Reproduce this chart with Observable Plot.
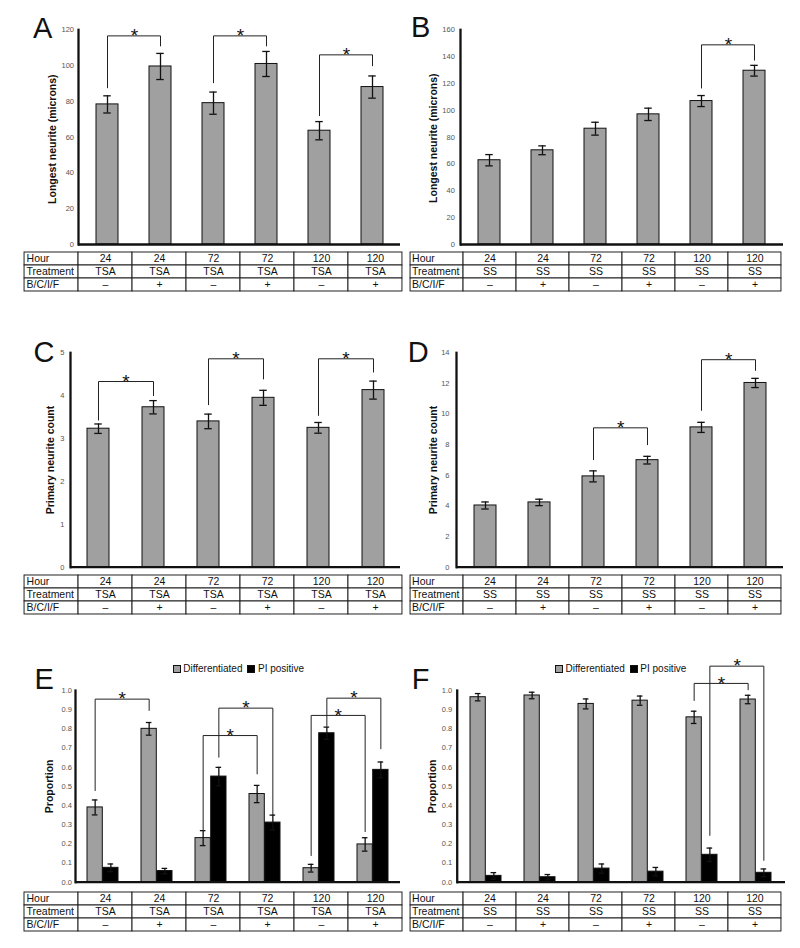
<!DOCTYPE html>
<html>
<head>
<meta charset="utf-8">
<script src="https://cdn.jsdelivr.net/npm/d3@7"></script>
<script src="https://cdn.jsdelivr.net/npm/@observablehq/plot@0.6"></script>
<style>
  html, body { margin: 0; padding: 0; background: #fff; }
  #fig { position: relative; width: 800px; height: 948px; overflow: hidden; font-family: Arial, "Liberation Sans", sans-serif; color: #111; }
  #fig > div { position: absolute; }
  .letter { font-size: 29px; line-height: 29px; }
  .legend { display: flex; align-items: center; font-size: 10px; line-height: 12px; white-space: nowrap; }
  .sw { width: 6px; height: 6px; border: 0.8px solid #111; display: inline-block; }
</style>
</head>
<body>
<div id="fig"></div>
<script>
// ---------- data ----------
const groups = [0, 1, 2, 3, 4, 5];
const hours = ["24", "24", "72", "72", "120", "120"];
const treatmentTSA = ["TSA", "TSA", "TSA", "TSA", "TSA", "TSA"];
const treatmentSS = ["SS", "SS", "SS", "SS", "SS", "SS"];
const bcif = ["–", "+", "–", "+", "–", "+"];
const tableRows = ["Hour", "Treatment", "B/C/I/F"];
const panelLetters = ["A", "B", "C", "D", "E", "F"];
const legendLabels = ["Differentiated", "PI positive"];

const ticksLongestTSA = [0, 20, 40, 60, 80, 100, 120];
const ticksLongestSS = [0, 20, 40, 60, 80, 100, 120, 140, 160];
const ticksCountTSA = [0, 1, 2, 3, 4, 5];
const ticksCountSS = [0, 2, 4, 6, 8, 10, 12, 14];
const ticksProportion = [0, 0.1, 0.2, 0.3, 0.4, 0.5, 0.6, 0.7, 0.8, 0.9, 1.0];

// A: longest neurite, TSA
const longestTSA = [78.3, 99.5, 79.0, 100.9, 63.6, 88.0];
const longestTSAErr = [4.8, 7.3, 6.2, 7.0, 5.1, 6.2];
// B: longest neurite, SS
const longestSS = [62.8, 70.2, 86.3, 97.0, 106.9, 129.5];
const longestSSErr = [4.2, 3.3, 4.8, 4.6, 4.1, 4.0];
// C: primary neurite count, TSA
const countTSA = [3.23, 3.73, 3.40, 3.95, 3.25, 4.13];
const countTSAErr = [0.11, 0.155, 0.17, 0.175, 0.125, 0.21];
// D: primary neurite count, SS
const countSS = [4.03, 4.23, 5.93, 6.99, 9.13, 12.03];
const countSSErr = [0.23, 0.21, 0.36, 0.25, 0.33, 0.30];
// E: proportions, TSA
const diffTSA = [0.39, 0.80, 0.23, 0.46, 0.073, 0.197];
const diffTSAErr = [0.039, 0.033, 0.039, 0.045, 0.02, 0.035];
const piTSA = [0.075, 0.058, 0.551, 0.311, 0.777, 0.586];
const piTSAErr = [0.02, 0.014, 0.048, 0.039, 0.032, 0.041];
// F: proportions, SS
const diffSS = [0.965, 0.974, 0.93, 0.947, 0.86, 0.953];
const diffSSErr = [0.019, 0.017, 0.026, 0.024, 0.032, 0.022];
const piSS = [0.033, 0.026, 0.071, 0.055, 0.143, 0.049];
const piSSErr = [0.017, 0.014, 0.024, 0.022, 0.035, 0.02];

// significance brackets: [series, from, to, top, left end, right end]
const bracketsA = [[0, 0, 1, 116.6, 87.6, 111], [0, 2, 3, 116.6, 90.4, 111], [0, 4, 5, 106, 72, 99.9]];
const bracketsB = [[0, 4, 5, 148.8, 116.6, 137.4]];
const bracketsC = [[0, 0, 1, 4.33, 3.43, 4.0], [0, 2, 3, 4.86, 3.79, 4.39], [0, 4, 5, 4.86, 3.54, 4.55]];
const bracketsD = [[0, 2, 3, 9.1, 7.02, 8.0], [0, 4, 5, 13.55, 10.24, 12.85]];
const bracketsE = [[0, 0, 1, 0.955, 0.478, 0.896], [0, 2, 3, 0.765, 0.27, 0.565], [1, 2, 3, 0.908, 0.652, 0.353],
                   [0, 4, 5, 0.87, 0.139, 0.264], [1, 4, 5, 0.96, 0.817, 0.696]];
const bracketsF = [[0, 4, 5, 1.037, 0.948, 1.004], [1, 4, 5, 1.127, 0.244, 0.114]];

const GRAY = "#a0a0a0", BLACK = "#000";
const fig = document.getElementById("fig");
const FONT = "Arial, 'Liberation Sans', sans-serif";

function place(el, left, top) {
  const d = document.createElement("div");
  d.style.left = left + "px";
  d.style.top = top + "px";
  d.append(el);
  fig.append(d);
  return d;
}

function panel(c) {
  const mL = c.fx0 - c.left, mR = c.left + c.width - c.fx1;
  const mT = c.fy0 - c.top, mB = c.top + c.height - c.fy1;
  const n = c.series.length;
  const barW = n === 2 ? 15.7 : 22;
  const capW = n === 2 ? 6 : 7.5;
  const groupW = barW * n;
  const step = (c.fx1 - c.fx0) / groups.length;
  const pInner = 1 - groupW / step;
  const marks = [Plot.frame({anchor: "left", stroke: "#111", strokeWidth: 2.3})];
  const offs = c.series.map((s, k) => n === 2 ? (k === 0 ? -barW / 2 : barW / 2) : 0);
  const rowsOf = s => groups.map(i => ({i, v: s.values[i], e: s.errors[i]}));
  c.series.forEach((s, k) => {
    marks.push(Plot.barY(rowsOf(s), {
      x: "i", y: "v", fill: s.fill, stroke: "#111", strokeWidth: 1,
      insetLeft: n === 2 && k === 1 ? barW : 0,
      insetRight: n === 2 && k === 0 ? barW : 0
    }));
  });
  c.series.forEach((s, k) => {
    const rows = rowsOf(s);
    const off = offs[k];
    const capIn = (groupW - capW) / 2;
    marks.push(Plot.ruleX(rows, {x: "i", y1: d => d.v - d.e, y2: d => d.v + d.e, dx: off, stroke: "#111", strokeWidth: 1.3}));
    marks.push(Plot.tickY(rows, {x: "i", y: d => d.v - d.e, dx: off, insetLeft: capIn, insetRight: capIn, stroke: "#111", strokeWidth: 1.3}));
    marks.push(Plot.tickY(rows, {x: "i", y: d => d.v + d.e, dx: off, insetLeft: capIn, insetRight: capIn, stroke: "#111", strokeWidth: 1.3}));
  });
  c.series.forEach((s, k) => {
    const off = offs[k];
    const br = c.brackets.filter(b => b[0] === k);
    if (!br.length) return;
    const pts = br.flatMap((b, j) => [
      {id: j, i: b[1], y: b[4]}, {id: j, i: b[1], y: b[3]},
      {id: j, i: b[2], y: b[3]}, {id: j, i: b[2], y: b[5]}
    ]);
    marks.push(Plot.line(pts, {x: "i", y: "y", z: "id", stroke: "#222", strokeWidth: 1, dx: off}));
    marks.push(Plot.text(br, {x: b => b[1], y: b => b[3], text: () => "*", dx: off + step / 2, fontSize: 19, fill: "#111", fontFamily: FONT}));
  });
  marks.push(Plot.ruleY([0], {stroke: "#111", strokeWidth: 2.3}));
  marks.push(Plot.text([c.label], {text: d => d, frameAnchor: "left", textAnchor: "middle", lineAnchor: "middle",
    rotate: -90, dx: c.labelDx, dy: c.labelDy,
    fontSize: 10.5, fontWeight: "bold", fill: "#111", fontFamily: FONT}));

  const chart = Plot.plot({
    width: c.width, height: c.height,
    marginLeft: mL, marginRight: mR, marginTop: mT, marginBottom: mB,
    style: {fontFamily: FONT, fontSize: "7.5px", color: "#555", background: "transparent", overflow: "visible"},
    x: {type: "band", domain: groups, paddingInner: pInner, paddingOuter: pInner / 2, axis: null},
    y: {domain: [0, c.yMax], ticks: c.ticks, tickFormat: c.fmt, tickSize: 0, tickPadding: c.tickPad, label: null},
    marks
  });
  place(chart, c.left, c.top);
}

function table(left, top, colW, rowH, treatment) {
  const cols = ["lab", 0, 1, 2, 3, 4, 5];
  const vals = [hours, treatment, bcif];
  const cells = tableRows.flatMap((r, ri) => cols.map(col => ({r, col, t: col === "lab" ? r : vals[ri][col]})));
  const chart = Plot.plot({
    width: cols.length * colW + 2, height: tableRows.length * rowH + 2, margin: 1,
    style: {fontFamily: FONT, background: "transparent", overflow: "visible"},
    x: {type: "band", domain: cols, padding: 0, axis: null},
    y: {type: "band", domain: tableRows, padding: 0, axis: null},
    marks: [
      Plot.cell(cells, {x: "col", y: "r", fill: "#fff", stroke: "#222", strokeWidth: 1, inset: 0}),
      Plot.text(cells.filter(d => d.col !== "lab"), {x: "col", y: "r", text: "t", fontSize: 10.5, fill: "#111", fontFamily: FONT}),
      Plot.text(cells.filter(d => d.col === "lab"), {x: "col", y: "r", text: "t", textAnchor: "start", dx: -colW / 2 + 2, fontSize: 10.5, fill: "#111", fontFamily: FONT})
    ]
  });
  place(chart, left - 1, top - 1);
}

function legend(left, top) {
  const d = document.createElement("div");
  d.className = "legend";
  legendLabels.forEach((lab, k) => {
    const sw = document.createElement("span");
    sw.className = "sw";
    sw.style.background = k ? BLACK : GRAY;
    sw.style.marginRight = "2.5px";
    if (k) sw.style.marginLeft = "5px";
    const t = document.createElement("span");
    t.textContent = lab;
    d.append(sw, t);
  });
  place(d, left, top);
}

function letter(ch, left, top) {
  const d = document.createElement("span");
  d.className = "letter";
  d.textContent = ch;
  place(d, left, top);
}

const f1 = d3.format(".1f");

panel({left: 0, top: 0, width: 402, height: 252, fx0: 78, fx1: 400, fy0: 29.3, fy1: 244,
  yMax: 120, ticks: ticksLongestTSA, fmt: d => d, tickPad: 4.5,
  label: "Longest neurite (microns)", labelDx: -26, labelDy: 2,
  series: [{values: longestTSA, errors: longestTSAErr, fill: GRAY}], brackets: bracketsA});
panel({left: 400, top: 0, width: 400, height: 252, fx0: 460, fx1: 783, fy0: 29.3, fy1: 244,
  yMax: 160, ticks: ticksLongestSS, fmt: d => d, tickPad: 5.7,
  label: "Longest neurite (microns)", labelDx: -27, labelDy: 1,
  series: [{values: longestSS, errors: longestSSErr, fill: GRAY}], brackets: bracketsB});
panel({left: 0, top: 300, width: 402, height: 275, fx0: 70, fx1: 400, fy0: 352.3, fy1: 566.7,
  yMax: 5, ticks: ticksCountTSA, fmt: d => d, tickPad: 6,
  label: "Primary neurite count", labelDx: -20, labelDy: 0,
  series: [{values: countTSA, errors: countTSAErr, fill: GRAY}], brackets: bracketsC});
panel({left: 400, top: 300, width: 400, height: 275, fx0: 456, fx1: 783, fy0: 352.3, fy1: 566.7,
  yMax: 14, ticks: ticksCountSS, fmt: d => d, tickPad: 7,
  label: "Primary neurite count", labelDx: -23, labelDy: 0,
  series: [{values: countSS, errors: countSSErr, fill: GRAY}], brackets: bracketsD});
panel({left: 0, top: 640, width: 402, height: 248, fx0: 75, fx1: 400, fy0: 690, fy1: 881.7,
  yMax: 1, ticks: ticksProportion, fmt: f1, tickPad: 3.6,
  label: "Proportion", labelDx: -26, labelDy: 0,
  series: [{values: diffTSA, errors: diffTSAErr, fill: GRAY}, {values: piTSA, errors: piTSAErr, fill: BLACK}], brackets: bracketsE});
panel({left: 400, top: 640, width: 400, height: 248, fx0: 456.7, fx1: 785, fy0: 690, fy1: 881.7,
  yMax: 1, ticks: ticksProportion, fmt: f1, tickPad: 5,
  label: "Proportion", labelDx: -24.7, labelDy: 0,
  series: [{values: diffSS, errors: diffSSErr, fill: GRAY}, {values: piSS, errors: piSSErr, fill: BLACK}], brackets: bracketsF});

table(24, 250.5, 54, 13.4, treatmentTSA);
table(406.7, 250.5, 53.9, 13.4, treatmentSS);
table(24, 574, 54, 13.4, treatmentTSA);
table(406.7, 574, 53.9, 13.4, treatmentSS);
table(24, 891, 54, 13.5, treatmentTSA);
table(406.7, 891, 53.9, 13.5, treatmentSS);

legend(172.7, 663);
legend(555, 663);

letter(panelLetters[0], 33, 13.5);
letter(panelLetters[1], 411, 12.5);
letter(panelLetters[2], 33.6, 337.5);
letter(panelLetters[3], 407.8, 337.5);
letter(panelLetters[4], 34.5, 664.5);
letter(panelLetters[5], 411.8, 664.5);
</script>
</body>
</html>
